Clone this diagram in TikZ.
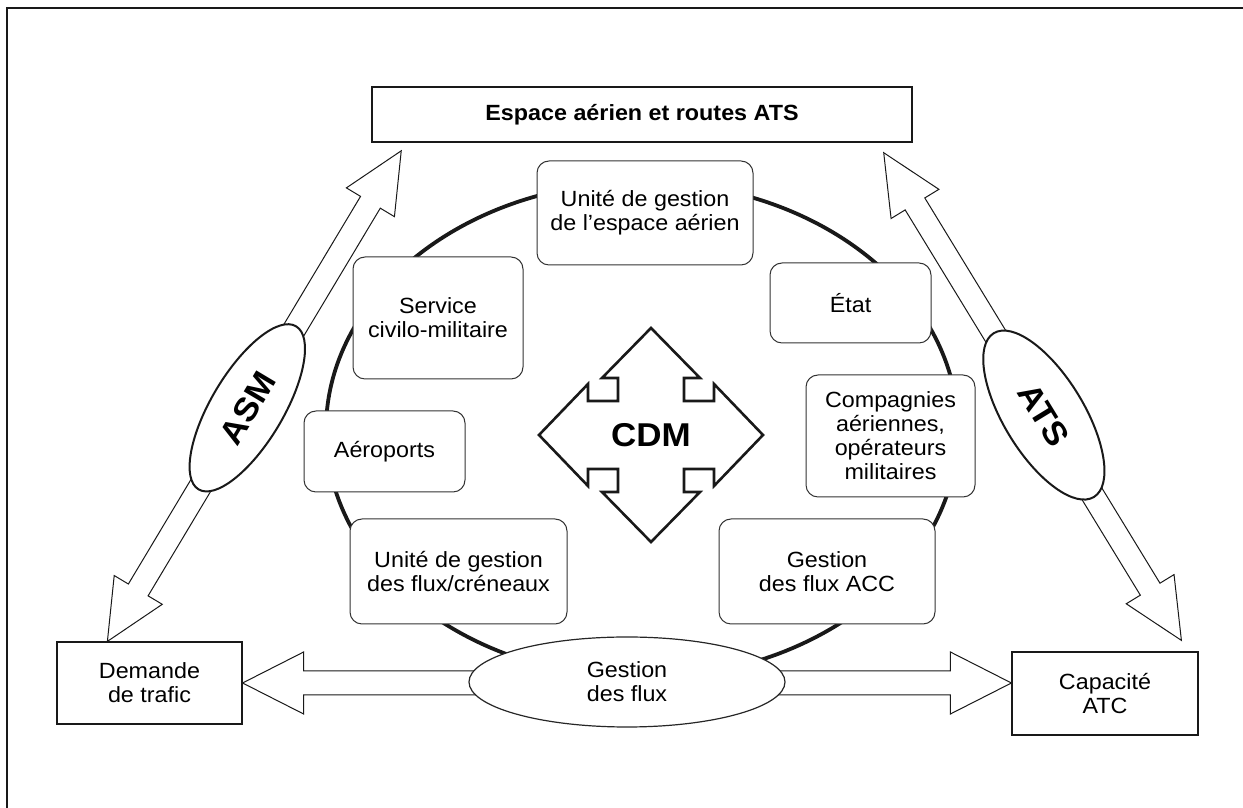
\documentclass[tikz,border=0pt]{standalone}
\usepackage{fontspec}
\setmainfont{Liberation Sans}[FakeStretch=1.06]
\usetikzlibrary{calc,shapes.geometric}

% Double-headed block arrow between two named points.
% #1 start, #2 end, #3 head length, #4 head half-width, #5 shaft half-width
\newcommand\blockarrow[5]{%
  \path let \p1=(#1), \p2=(#2) in \pgfextra{%
    \pgfmathsetmacro\baAngle{atan2(\y2-\y1,\x2-\x1)}%
    \pgfmathsetmacro\baLength{veclen(\x2-\x1,\y2-\y1)}%
    \global\let\baAng\baAngle
    \global\let\baLen\baLength};
  \pgfmathsetmacro\baKnee{\baLen-#3}%
  \begin{scope}[shift={(#1)}, rotate=\baAng]
    \draw[blockarrow] (0,0) -- (#3,#4) -- (#3,#5) -- (\baKnee,#5) -- (\baKnee,#4)
      -- (\baLen,0) -- (\baKnee,-#4) -- (\baKnee,-#5) -- (#3,-#5) -- (#3,-#4) -- cycle;
  \end{scope}}

\tikzset{
  frameline/.style={draw=black!90, line width=1.3pt},
  plainbox/.style={draw=black!90, line width=1.4pt, fill=white, inner sep=0pt,
    align=center, font=\fontsize{22}{24}\selectfont},
  roundbox/.style={draw=black!80, line width=1pt, fill=white, rounded corners=12pt,
    inner sep=0pt, align=center, font=\fontsize{22}{24}\selectfont},
  blockarrow/.style={draw=black!90, line width=1pt, fill=white, line join=miter},
  tagoval/.style={ellipse, draw=black!90, line width=2pt, fill=white, inner sep=0pt,
    font=\bfseries\fontsize{33}{35}\selectfont},
  fluxoval/.style={ellipse, draw=black!85, line width=1.2pt, fill=white, inner sep=0pt,
    align=center, font=\fontsize{22}{24}\selectfont},
  ringline/.style={draw=black!90, line width=3.8pt},
  cdmshape/.style={draw=black!90, line width=2.6pt, line join=miter},
}

\begin{document}
\begin{tikzpicture}[x=1pt, y=1pt]
\useasboundingbox (0,0) rectangle (1243,808);

% page frame (top and left rules)
\draw[frameline] (7,0) -- (7,800) -- (1243,800);

% end boxes
\node[plainbox, font=\bfseries\fontsize{22}{24}\selectfont,
  minimum width=540, minimum height=55] (air) at (642,693.5) {Espace aérien et routes ATS};
\node[plainbox, line width=1.2pt, minimum width=185, minimum height=82] (dem) at (149.5,125) {Demande\\de trafic};
\node[plainbox, line width=1.2pt, minimum width=186, minimum height=83] (cap) at (1105,114.5) {Capacité\\ATC};

% arrow end points
\coordinate (asmLow)  at ($(dem.north west)+(51,0)$);
\coordinate (asmHigh) at ($(air.south west)+(30,-8)$);
\coordinate (atsLow)  at ($(cap.north west)+(170,11)$);
\coordinate (atsHigh) at ($(air.south east)+(-29,-10)$);
\coordinate (fluxL) at (dem.east);
\coordinate (fluxR) at (cap.west |- dem.east);

% block arrows
\blockarrow{asmLow}{asmHigh}{60}{28}{11.5}
\blockarrow{atsLow}{atsHigh}{60}{28}{11.5}
\blockarrow{fluxL}{fluxR}{61}{31}{12}

% CDM ring
\draw[ringline] (642,378) ellipse [x radius=316pt, y radius=248pt];

% partners around the ring
\node[roundbox, minimum width=216, minimum height=104] (uesp) at (645,595) {Unité de gestion\\de l’espace aérien};
\node[roundbox, minimum width=170, minimum height=122] (civ) at (438,490) {Service\\civilo-militaire};
\node[roundbox, minimum width=161, minimum height=80] (etat) at (850.5,505) {État};
\node[roundbox, minimum width=161, minimum height=81] (aero) at (384.5,356.5) {Aéroports};
\node[roundbox, minimum width=169, minimum height=122] (cie) at (890.5,372) {Compagnies\\aériennes,\\opérateurs\\militaires};
\node[roundbox, minimum width=217, minimum height=105] (ufl) at (458.5,236.5) {Unité de gestion\\des flux/créneaux};
\node[roundbox, minimum width=216, minimum height=105] (acc) at (827,236.5) {Gestion\\des flux ACC};

% labels on the arrows
\node[tagoval, minimum width=190, minimum height=72, rotate=59.14] (asm) at ($(asmLow)!0.476!(asmHigh)$) {ASM};
\node[tagoval, minimum width=192, minimum height=80, rotate=-58.55] (ats) at ($(atsLow)!0.462!(atsHigh)$) {ATS};
\node[fluxoval, minimum width=316, minimum height=90] (flux) at (627,126) {Gestion\\des flux};

% four-way CDM arrow
\coordinate (cdmc) at (651,373);
\draw[cdmshape, shift={(cdmc)}]
  (0,107) -- (49,57) -- (33,57) -- (33,34) -- (63,34) -- (63,51) -- (112,0)
  -- (63,-51) -- (63,-34) -- (33,-34) -- (33,-57) -- (49,-57) -- (0,-107)
  -- (-49,-57) -- (-33,-57) -- (-33,-34) -- (-63,-34) -- (-63,-51) -- (-112,0)
  -- (-63,51) -- (-63,34) -- (-33,34) -- (-33,57) -- (-49,57) -- cycle;
\node[font=\bfseries\fontsize{33}{35}\selectfont, inner sep=0pt] (cdm) at (cdmc) {CDM};
\end{tikzpicture}
\end{document}
